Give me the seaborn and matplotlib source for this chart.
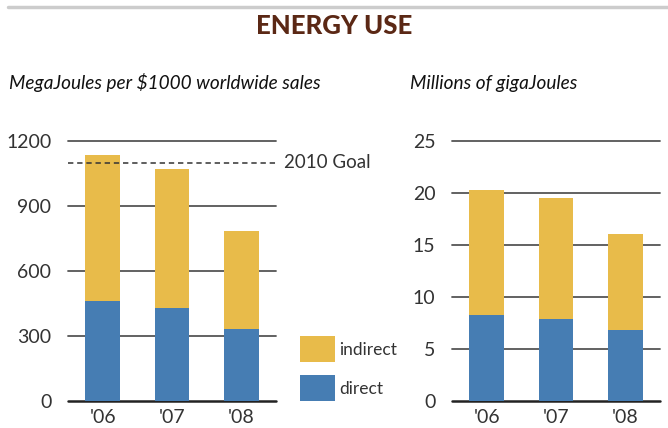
import matplotlib
matplotlib.use("Agg")
import matplotlib.pyplot as plt
import seaborn as sns
import pandas as pd
from matplotlib.patches import Rectangle
from matplotlib.lines import Line2D

years = ["'06", "'07", "'08"]
intensity_total = [1135, 1070, 785]
intensity_direct = [460, 430, 332]
goal_2010 = 1100
absolute_total = [20.3, 19.5, 16.1]
absolute_direct = [8.3, 7.9, 6.8]
left_ticks = [0, 300, 600, 900, 1200]
right_ticks = [0, 5, 10, 15, 20, 25]

YELLOW = "#E8BB4A"
BLUE = "#467DB3"
GRID = "#555555"

sns.set_theme(style="white")
plt.rcParams['font.family'] = ['Lato', 'DejaVu Sans']

fig = plt.figure(figsize=(6.68, 4.28), dpi=100)
W, H = 668, 428

def fx(px):
    return px / W

def fy(py):
    return 1 - py / H

axL = fig.add_axes([fx(68), fy(401), 208 / W, 260 / H])
axR = fig.add_axes([fx(452), fy(401), 208 / W, 260 / H])

def draw(ax, total, direct, ticks):
    df = pd.DataFrame({"year": years, "total": total, "direct": direct})
    for t in ticks:
        ax.axhline(t, color=GRID if t else "#222222", lw=1.3 if t else 1.8,
                   zorder=0, clip_on=False)
    sns.barplot(data=df, x="year", y="total", color=YELLOW, width=0.5,
                saturation=1, ax=ax, zorder=2, linewidth=0, edgecolor="none")
    sns.barplot(data=df, x="year", y="direct", color=BLUE, width=0.5,
                saturation=1, ax=ax, zorder=3, linewidth=0, edgecolor="none")
    ax.set_xlim(-0.5, 2.5)
    ax.set_ylim(0, ticks[-1])
    ax.set_yticks(ticks)
    ax.set_yticklabels([str(t) for t in ticks])
    ax.set_xlabel("")
    ax.set_ylabel("")
    for s in ax.spines.values():
        s.set_visible(False)
    ax.tick_params(axis="y", length=0, pad=12, labelsize=14, labelcolor="#333333")
    ax.tick_params(axis="x", length=0, pad=6, labelsize=14, labelcolor="#333333")
    ax.patch.set_alpha(0)

draw(axL, intensity_total, intensity_direct, left_ticks)
draw(axR, absolute_total, absolute_direct, right_ticks)

axL.axhline(goal_2010, color="#333333", lw=1.1, ls=(0, (3.5, 2.5)), zorder=4)
axL.text(1.04, goal_2010, "2010 Goal", transform=axL.get_yaxis_transform(),
         fontsize=13.5, color="#333333", va="center", ha="left")

# top rule
fig.add_artist(Line2D([fx(8), 1], [fy(7), fy(7)], color="#CCCCCC", lw=2.5))

fig.text(0.5, fy(26), "ENERGY USE", ha="center", va="center",
         fontsize=18.5, fontweight="black", color="#5B2815")
fig.text(fx(9), fy(83), "MegaJoules per $1000 worldwide sales", ha="left",
         va="center", fontsize=13.7, style="italic", color="#111111")
fig.text(fx(410), fy(83), "Millions of gigaJoules", ha="left",
         va="center", fontsize=13.7, style="italic", color="#111111")

# legend
for (label, color, top) in [("indirect", YELLOW, 336), ("direct", BLUE, 375)]:
    fig.add_artist(Rectangle((fx(300), fy(top + 26)), 35 / W, 26 / H,
                             color=color, lw=0, transform=fig.transFigure))
    fig.text(fx(339), fy(top + 14), label, ha="left", va="center",
             fontsize=12.5, color="#333333")

fig.savefig("out.png", dpi=100)
